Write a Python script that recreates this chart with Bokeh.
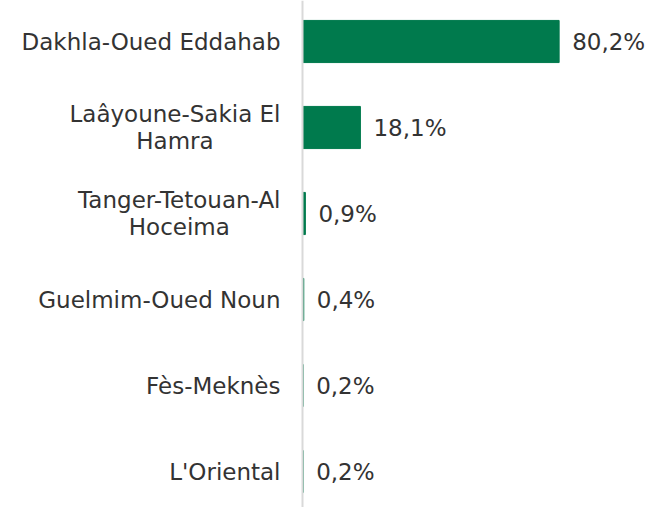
import numpy as np
from bokeh.plotting import figure
from bokeh.models import Range1d, Span, ColumnDataSource
from bokeh.core.properties import value
from bokeh.embed import file_html
from bokeh.resources import INLINE

regions = ["Dakhla-Oued Eddahab", "Laâyoune-Sakia El\nHamra", "Tanger-Tetouan-Al\nHoceima",
           "Guelmim-Oued Noun", "Fès-Meknès", "L'Oriental"]
shares = [80.2, 18.1, 0.9, 0.4, 0.2, 0.2]
share_labels = ["80,2%", "18,1%", "0,9%", "0,4%", "0,2%", "0,2%"]

W, H = 647, 507
px_per_unit = 3.2
axis_px = 302
row_px = 86
first_center_px = 41

x_start = -axis_px / px_per_unit
x_end = x_start + W / px_per_unit
y_top = -first_center_px / row_px
y_bottom = y_top + H / row_px

idx = list(range(len(regions)))
src = ColumnDataSource(dict(y=idx, v=shares, lab=share_labels, reg=regions))

p = figure(width=W, height=H, output_backend="svg", toolbar_location=None,
           x_range=Range1d(x_start, x_end), y_range=Range1d(y_bottom, y_top),
           x_axis_location=None, y_axis_location=None, min_border=0, outline_line_color=None)
p.grid.visible = False

p.hbar(y="y", left=0, right="v", height=0.49, source=src, color="#007A4D")
p.add_layout(Span(location=0, dimension="height", line_color="#d9d9d9", line_width=2))

font = value("DejaVu Sans")
p.text(x=0, y="y", text="reg", source=src, x_offset=-22, text_align="center", anchor="center_right",
       text_baseline="middle", text_font=font, text_font_size="23px", text_color="#333333",
       text_line_height=1.05)
p.text(x="v", y="y", text="lab", source=src, x_offset=13, text_align="left", text_baseline="middle",
       text_font=font, text_font_size="23px", text_color="#333333")

open("out.html", "w").write(file_html(p, INLINE))
